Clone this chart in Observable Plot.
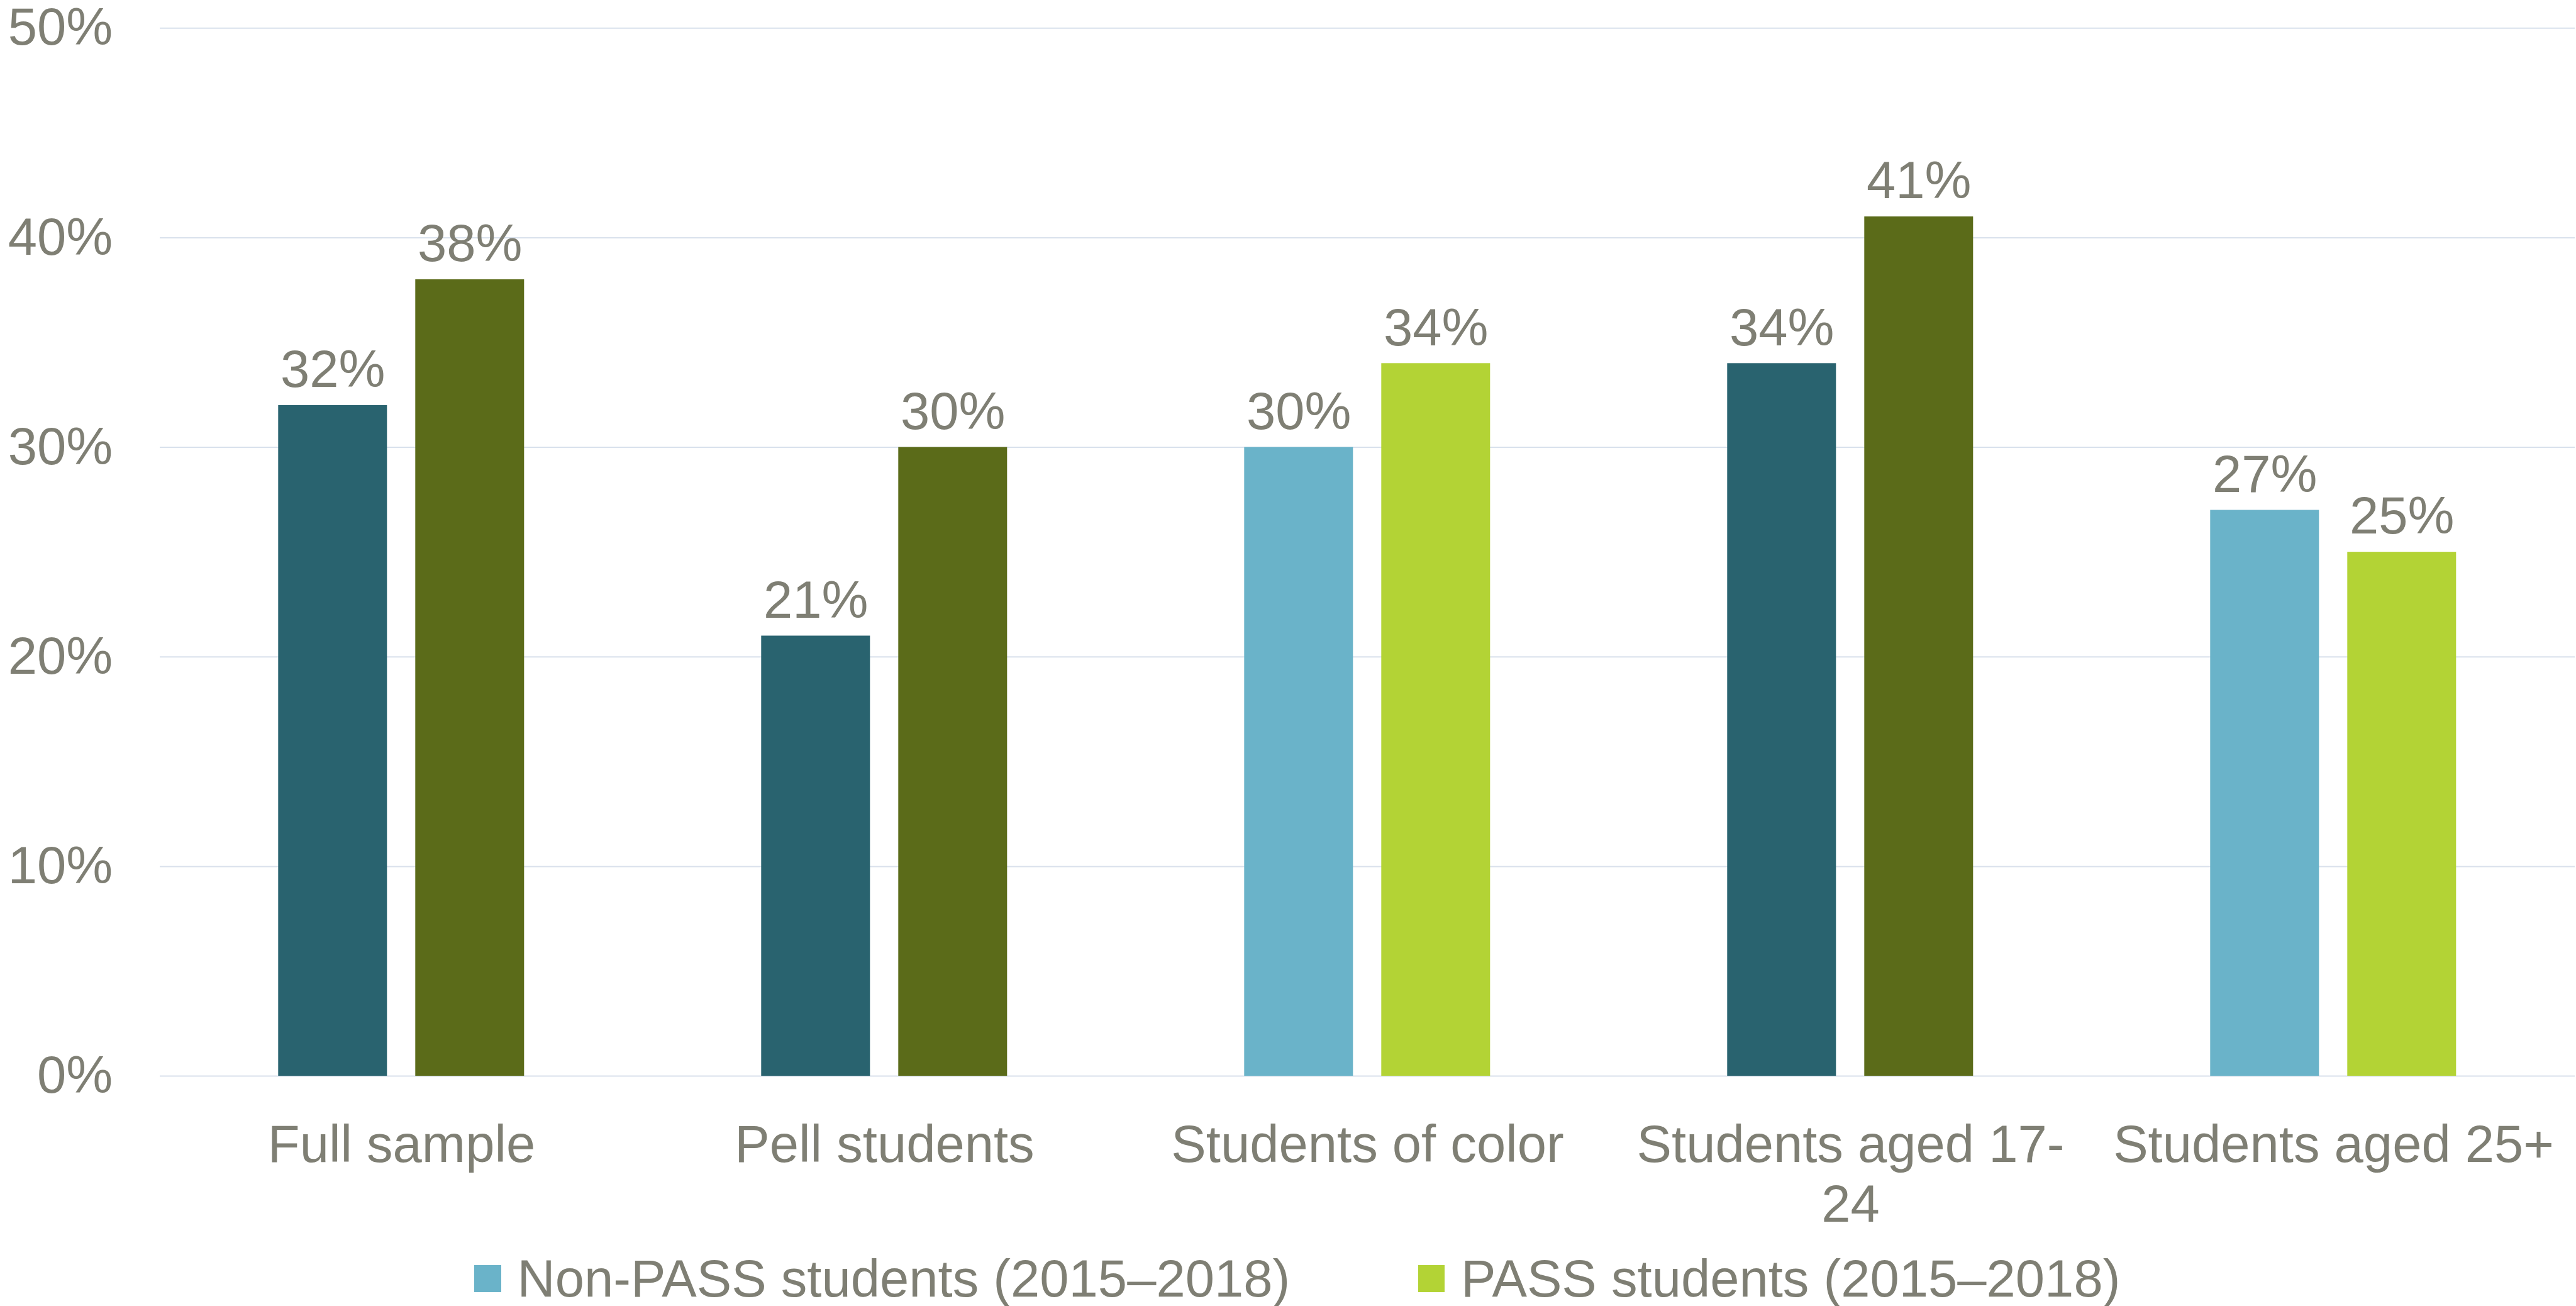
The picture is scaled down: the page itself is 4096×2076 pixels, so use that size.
<!DOCTYPE html>
<html>
<head>
<meta charset="utf-8">
<script src="https://cdn.jsdelivr.net/npm/d3@7"></script>
<script src="https://cdn.jsdelivr.net/npm/@observablehq/plot@0.6"></script>
<style>
  html, body { margin: 0; padding: 0; background: #ffffff; }
  body { width: 4096px; height: 2076px; overflow: hidden; font-family: "Liberation Sans", Arial, sans-serif; }
  #chart svg { display: block; }
  .legend { display: flex; flex-direction: row; align-items: flex-start; padding-left: 754px; padding-top: 0.6px;
            font-size: 83.2px; line-height: 1; color: #7F7F74; font-family: "Liberation Sans", Arial, sans-serif; white-space: nowrap; }
  .legend .item { display: flex; align-items: flex-start; }
  .legend .item.first { width: 1500.5px; }
  .legend .swatch { width: 42.6px; height: 42.6px; margin-top: 20.4px; margin-right: 26px; flex: none; }
</style>
</head>
<body>
<div id="chart"></div>
<div class="legend" id="legend"></div>
<script>
// ---- data ----
const categories = ["Full sample", "Pell students", "Students of color", "Students aged 17-24", "Students aged 25+"];
const tickLabels = ["Full sample", "Pell students", "Students of color", "Students aged 17-\n24", "Students aged 25+"];
const series = ["Non-PASS students (2015–2018)", "PASS students (2015–2018)"];
const nonPassValues = [32, 21, 30, 34, 27];
const passValues = [38, 30, 34, 41, 25];
const lightCategories = ["Students of color", "Students aged 25+"];
const yTicks = [0, 10, 20, 30, 40, 50];

// ---- styling ----
const palette = {
  "Non-PASS students (2015–2018)|dark": "#29636F",
  "PASS students (2015–2018)|dark": "#5B6B19",
  "Non-PASS students (2015–2018)|light": "#6AB3C9",
  "PASS students (2015–2018)|light": "#B3D335"
};
const textColor = "#7F7F74";
const gridColor = "#D9E1EC";
const fontSize = 83.2;

const rows = [];
categories.forEach((c, i) => {
  const shade = lightCategories.includes(c) ? "light" : "dark";
  rows.push({category: c, series: series[0], value: nonPassValues[i], key: series[0] + "|" + shade});
  rows.push({category: c, series: series[1], value: passValues[i], key: series[1] + "|" + shade});
});

const W = 4096, H = 1990;
const marginTop = 44.2, marginBottom = H - 1710.1, marginLeft = 252.7;

const chart = Plot.plot({
  width: W,
  height: H,
  marginTop,
  marginBottom,
  marginLeft,
  marginRight: 0,
  style: {fontFamily: '"Liberation Sans", Arial, sans-serif', background: "#ffffff", overflow: "visible"},
  fx: {domain: categories, padding: 0, label: null},
  x: {domain: series, paddingInner: 0.208, paddingOuter: 0.859, align: 0.5, axis: null},
  y: {domain: [0, 50], label: null},
  color: {type: "ordinal", domain: Object.keys(palette), range: Object.values(palette)},
  marks: [
    Plot.gridY(yTicks, {stroke: gridColor, strokeWidth: 2, strokeOpacity: 1}),
    Plot.axisY(yTicks, {
      tickSize: 0, tickPadding: 75.3, fontSize, fill: textColor, label: null,
      tickFormat: d => d + "%"
    }),
    Plot.axisFx({
      anchor: "bottom", tickSize: 0, tickPadding: 69, fontSize, fill: textColor, label: null,
      lineHeight: 1.143,
      tickFormat: d => tickLabels[categories.indexOf(d)]
    }),
    Plot.barY(rows, {fx: "category", x: "series", y: "value", fill: "key", inset: 0}),
    Plot.text(rows, {
      fx: "category", x: "series", y: "value", text: d => d.value + "%",
      lineAnchor: "bottom", dy: -29.2, fontSize, fill: textColor
    })
  ]
});
document.getElementById("chart").appendChild(chart);

// ---- legend (HTML, below the SVG) ----
const legend = document.getElementById("legend");
series.forEach((s, i) => {
  const item = document.createElement("div");
  item.className = "item" + (i === 0 ? " first" : "");
  const sw = document.createElement("span");
  sw.className = "swatch";
  sw.style.background = palette[s + "|light"];
  const label = document.createElement("span");
  label.textContent = s;
  item.appendChild(sw);
  item.appendChild(label);
  legend.appendChild(item);
});
</script>
</body>
</html>
